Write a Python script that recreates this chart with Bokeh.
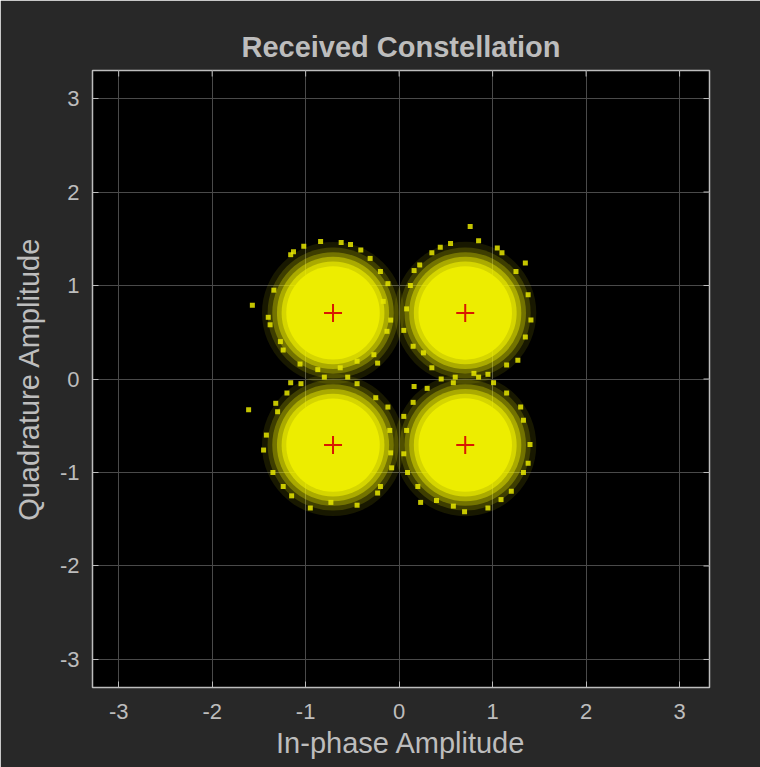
import math
from bokeh.plotting import figure
from bokeh.models import FixedTicker, ColumnDataSource, Range1d
from bokeh.embed import file_html
from bokeh.resources import INLINE

# ---- data ----
ticks = [-3, -2, -1, 0, 1, 2, 3]
tick_labels = ["-3", "-2", "-1", "0", "1", "2", "3"]
ref_i = [-0.7071, 0.7071, -0.7071, 0.7071]
ref_q = [0.7071, 0.7071, -0.7071, -0.7071]

# received-cloud density rings (radius in amplitude units, opacity)
cloud_radius = [0.76, 0.70, 0.65, 0.60, 0.55, 0.50]
cloud_alpha = [0.10, 0.18, 0.30, 0.45, 0.65, 1.0]

# scattered edge samples
spk_i = [-1.13, -0.62, -1.40, -1.34, -0.12, -0.09, -0.23, -0.87, -1.24, -1.57, -0.41,
         -1.02, -0.84, -0.52, -0.31, -0.20, -0.17, -0.13, -0.27, -0.45, -0.63, -1.06, -1.27, -1.38, -1.16,
         0.76, 1.35, 1.41, 1.27, 0.80, 0.26, 0.05, 0.16, 0.44, 1.05,
         0.35, 0.55, 0.85, 1.10, 1.25, 1.38, 1.35, 1.15, 0.95, 0.60, 0.35, 0.15, 0.08, 0.12, 0.22,
         -1.61, -1.45, -1.32, -1.16, -0.55, -0.12, -0.09, -0.23, -0.73, -1.24,
         -1.05, -0.80, -0.45, -0.25, -0.10, -0.08, -0.20, -0.45, -0.95, -1.15, -1.35, -1.42, -1.30, -1.20,
         0.05, 0.16, 0.58, 1.01, 1.33, 1.33, 1.09, 0.58, 0.23, 0.09,
         0.30, 0.45, 0.85, 1.15, 1.30, 1.40, 1.38, 1.20, 0.95, 0.70, 0.40, 0.20, 0.05, 0.08, 0.15]
spk_q = [1.36, 1.46, 0.66, 0.95, 1.02, 0.63, 0.17, 0.10, 0.31, 0.79, 1.38,
         1.42, 1.47, 1.44, 1.29, 1.15, 0.83, 0.51, 0.26, 0.19, 0.12, 0.16, 0.40, 0.58, 1.33,
         1.63, 1.24, 0.63, 0.20, 0.06, 0.28, 0.52, 1.16, 1.41, 1.40,
         1.35, 1.45, 1.48, 1.35, 1.15, 0.90, 0.45, 0.15, 0.05, 0.02, 0.12, 0.35, 0.75, 1.00, 1.22,
         -0.33, -0.76, -0.26, -0.04, 0.02, -0.30, -0.79, -1.22, -1.32, -1.15,
         -0.05, 0.02, -0.05, -0.20, -0.55, -0.95, -1.15, -1.35, -1.38, -1.25, -1.00, -0.60, -0.35, -0.15,
         -0.40, -0.08, -0.04, -0.04, -0.44, -1.00, -1.29, -1.36, -1.32, -1.00,
         -0.10, 0.00, 0.02, -0.15, -0.30, -0.70, -0.90, -1.20, -1.38, -1.42, -1.30, -1.15, -0.80, -0.55, -0.25]

# ---- style ----
BG = "#282828"
FG = "#bdbdbd"
FONT = "Liberation Sans"

p = figure(width=760, height=767, output_backend="svg", toolbar_location=None,
           x_range=Range1d(-3.28, 3.32), y_range=Range1d(-3.3, 3.3),
           min_border_left=92, min_border_right=51, min_border_top=70, min_border_bottom=80,
           background_fill_color="black", border_fill_color=BG)

p.title.text = "Received Constellation"
p.title.align = "center"
p.title.text_color = FG
p.title.text_font = FONT
p.title.text_font_size = "29px"
p.title.text_font_style = "bold"
p.title.standoff = 15

p.outline_line_color = FG
p.outline_line_width = 1.5

for ax in (p.xaxis[0], p.yaxis[0]):
    ax.ticker = FixedTicker(ticks=ticks)
    ax.major_label_overrides = dict(zip(ticks, tick_labels))
    ax.axis_line_color = FG
    ax.major_tick_line_color = FG
    ax.major_tick_in = 6
    ax.major_tick_out = 0
    ax.minor_tick_line_color = None
    ax.major_label_text_color = FG
    ax.major_label_text_font = FONT
    ax.major_label_text_font_size = "22px"
    ax.axis_label_text_color = FG
    ax.axis_label_text_font = FONT
    ax.axis_label_text_font_size = "29px"
    ax.axis_label_text_font_style = "normal"

p.xaxis[0].axis_label = "In-phase Amplitude"
p.yaxis[0].axis_label = "Quadrature Amplitude"
p.xaxis[0].major_label_standoff = 16
p.yaxis[0].major_label_standoff = 13
p.xaxis[0].axis_label_standoff = 5
p.yaxis[0].axis_label_standoff = 12

p.xgrid.ticker = FixedTicker(ticks=ticks)
p.ygrid.ticker = FixedTicker(ticks=ticks)
p.xgrid.grid_line_color = "#4a4a4a"
p.ygrid.grid_line_color = "#4a4a4a"

# clouds
cx, cy, cr, ca = [], [], [], []
for r, a in zip(cloud_radius, cloud_alpha):
    for xi, yi in zip(ref_i, ref_q):
        cx.append(xi); cy.append(yi); cr.append(r); ca.append(a)
src = ColumnDataSource(dict(x=cx, y=cy, r=cr, a=ca))
p.circle("x", "y", radius="r", source=src, fill_color="#eded00", fill_alpha="a",
         line_color=None)

p.scatter(spk_i, spk_q, marker="square", size=5, fill_color="#e6e600", fill_alpha=0.85,
          line_color=None)

p.scatter(ref_i, ref_q, marker="cross", size=18, line_color="#d81800", line_width=2)

# inward ticks on the top and right edges of the box (clipped to the frame)
n = len(ticks)
p.scatter(ticks, [p.y_range.end] * n, marker="dash", angle=math.pi / 2, size=12,
          line_color=FG, line_width=1)
p.scatter([p.x_range.end] * n, ticks, marker="dash", size=12, line_color=FG, line_width=1)

open("out.html", "w").write(file_html(p, INLINE))
